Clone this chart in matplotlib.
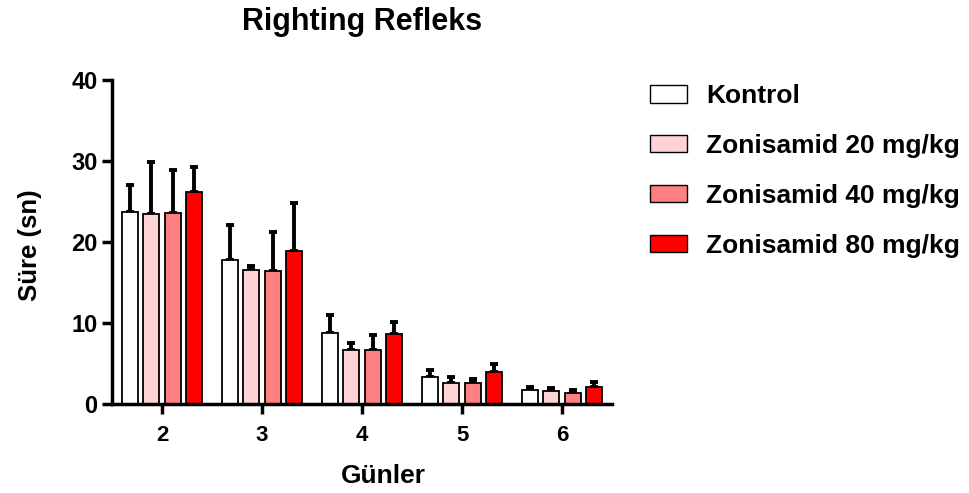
import numpy as np
import matplotlib
matplotlib.use("Agg")
import matplotlib.pyplot as plt
from matplotlib.patches import Patch

plt.rcParams['font.family'] = ['Liberation Sans', 'DejaVu Sans']
plt.rcParams['font.weight'] = 'bold'

days = [2, 3, 4, 5, 6]
groups = ['Kontrol', 'Zonisamid 20 mg/kg', 'Zonisamid 40 mg/kg', 'Zonisamid 80 mg/kg']
colors = ['#ffffff', '#ffd3d3', '#ff8080', '#ff0000']

kontrol = [23.7, 17.8, 8.8, 3.3, 1.7]
zon20 = [23.5, 16.5, 6.7, 2.6, 1.6]
zon40 = [23.6, 16.4, 6.7, 2.6, 1.4]
zon80 = [26.2, 18.9, 8.6, 4.0, 2.1]

kontrol_sd = [3.3, 4.3, 2.2, 0.9, 0.4]
zon20_sd = [6.4, 0.5, 0.8, 0.7, 0.4]
zon40_sd = [5.3, 4.8, 1.8, 0.5, 0.3]
zon80_sd = [3.0, 5.9, 1.5, 0.9, 0.6]

means = [kontrol, zon20, zon40, zon80]
sds = [kontrol_sd, zon20_sd, zon40_sd, zon80_sd]

fig = plt.figure(figsize=(9.7, 4.93), dpi=100)
ax = fig.add_axes([0.1155, 0.1805, 0.5155, 0.6575])

x = np.array(days, dtype=float)
w = 0.16
step = 0.215
for i in range(4):
    pos = x + (i - 1.5) * step
    err = [np.zeros(len(days)), sds[i]]
    ax.bar(pos, means[i], width=w, color=colors[i], edgecolor='black',
           linewidth=1.3, zorder=2)
    ax.errorbar(pos, means[i], yerr=err, fmt='none', ecolor='black',
                elinewidth=2.8, capsize=3.2, capthick=2.8, zorder=1)

ax.set_xlim(1.5, 6.5)
ax.set_ylim(0, 40)
ax.set_xticks(days)
ax.set_yticks([0, 10, 20, 30, 40])
for side in ['top', 'right']:
    ax.spines[side].set_visible(False)
for side in ['left', 'bottom']:
    ax.spines[side].set_linewidth(2.5)
ax.tick_params(width=2.5, length=7)
ax.tick_params(axis='x', pad=8, labelsize=16)
ax.tick_params(axis='y', labelsize=17)
for lab in ax.get_xticklabels() + ax.get_yticklabels():
    lab.set_fontweight('bold')

fig.text(0.3732, 1 - 22 / 493, 'Righting Refleks', fontsize=22, fontweight='bold',
         ha='center', va='center')
ax.set_ylabel('Süre (sn)', fontsize=18.5, fontweight='bold')
ax.yaxis.set_label_coords(-0.14, 0.49)
ax.set_xlabel('Günler', fontsize=19, fontweight='bold')
ax.xaxis.set_label_coords(0.542, -0.185)

handles = [Patch(facecolor=c, edgecolor='black', linewidth=1.0) for c in colors]
fig.legend(handles, groups, loc='upper left', bbox_to_anchor=(637 / 970, 1 - 71 / 493),
           frameon=False, prop={'size': 19, 'weight': 'bold'}, borderpad=0,
           handlelength=1.4, handleheight=0.63, labelspacing=0.98, handletextpad=0.72)

fig.savefig('out.png', dpi=100)
